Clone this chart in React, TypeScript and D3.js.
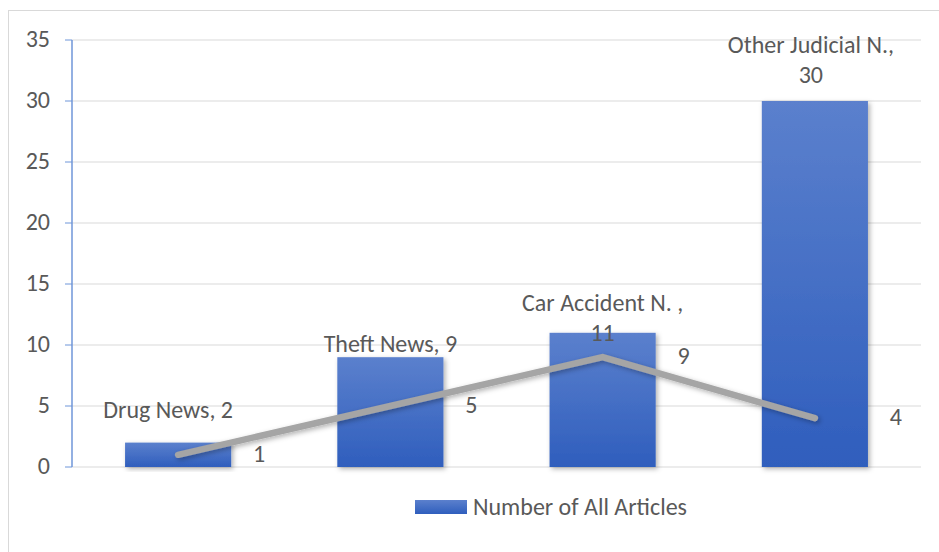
import React from "react";
import * as d3 from "d3";

const categories = ["Drug News", "Theft News", "Car Accident N. ", "Other Judicial N."];
const barValues = [2, 9, 11, 30];
const lineValues = [1, 5, 9, 4];
const yTicks = [0, 5, 10, 15, 20, 25, 30, 35];
const legendLabel = "Number of All Articles";

export default function App() {
  const W = 939, H = 552;
  const x0 = 72, x1 = 921, yTop = 40, yBot = 467;
  const x = d3.scaleBand<string>().domain(categories).range([x0, x1]).paddingInner(0.5).paddingOuter(0.25);
  const xc = (c: string) => (x(c) as number) + x.bandwidth() / 2;
  const y = d3.scaleLinear().domain([0, 35]).range([yBot, yTop]);
  const line = d3.line<number>().x((_, i) => xc(categories[i])).y((v) => y(v));
  const font = "Carlito, 'Open Sans', 'Liberation Sans', sans-serif";
  const txt = "#595959";
  const fs = 24;
  const barLabelLines: string[][] = categories.map((c, i) =>
    c.endsWith(".") || c.endsWith(". ") ? [c + ",", String(barValues[i])] : [c + ", " + barValues[i]]
  );
  const barLabelGap = [25, 5, -8, 18];
  const barLabelDx = [-10, 0, 0, -4];
  return (
    <svg width={W} height={H} style={{ position: "absolute", left: 0, top: 0 }}>
      <defs>
        <linearGradient id="barGrad" x1="0" y1="0" x2="0" y2="1">
          <stop offset="0" stopColor="#5b80cd" />
          <stop offset="1" stopColor="#2f5ebd" />
        </linearGradient>
        <linearGradient id="legGrad" x1="0" y1="0" x2="0" y2="1">
          <stop offset="0" stopColor="#5b80cd" />
          <stop offset="1" stopColor="#2f5ebd" />
        </linearGradient>
        <filter id="shadow" x="-20%" y="-20%" width="140%" height="140%">
          <feDropShadow dx="2" dy="2" stdDeviation="2.5" floodColor="#000" floodOpacity="0.3" />
        </filter>
      </defs>
      <rect x={0} y={0} width={W} height={H} fill="#fff" />
      <rect x={8.5} y={10.5} width={W + 10} height={H + 10} fill="none" stroke="#d9d9d9" />
      {yTicks.map((t) => (
        <g key={t}>
          <line x1={x0} x2={x1} y1={y(t)} y2={y(t)} stroke="#d9d9d9" strokeWidth={1} />
          <line x1={x0 - 7} x2={x0} y1={y(t)} y2={y(t)} stroke="#6f96d9" strokeWidth={1} />
          <text x={50} y={y(t)} dy="0.3em" textAnchor="end" fontSize={fs} fontFamily={font} fill={txt}>{t}</text>
        </g>
      ))}
      <line x1={x0} x2={x0} y1={yTop} y2={yBot} stroke="#6f96d9" strokeWidth={1.5} />
      {categories.map((c, i) => (
        <rect key={c} x={x(c)} y={y(barValues[i])} width={x.bandwidth()} height={yBot - y(barValues[i])}
          fill="url(#barGrad)" filter="url(#shadow)" />
      ))}
      <path d={line(lineValues) as string} fill="none" stroke="#a5a5a5" strokeWidth={6.5} strokeLinecap="round"
        strokeLinejoin="miter" filter="url(#shadow)" />
      {categories.map((c, i) => {
        const lines = barLabelLines[i];
        const base = y(barValues[i]) - barLabelGap[i];
        return (
          <text key={c} textAnchor="middle" fontSize={fs} fontFamily={font} fill={txt}>
            {lines.map((l, j) => (
              <tspan key={j} x={xc(c) + barLabelDx[i]} y={base - (lines.length - 1 - j) * 30}>{l}</tspan>
            ))}
          </text>
        );
      })}
      {categories.map((c, i) => (
        <text key={c} x={xc(c) + 81} y={y(lineValues[i])} dy="0.3em" textAnchor="middle" fontSize={fs}
          fontFamily={font} fill={txt}>{lineValues[i]}</text>
      ))}
      <rect x={415} y={500} width={52} height={14} fill="url(#legGrad)" />
      <text x={473} y={507} dy="0.33em" fontSize={fs} fontFamily={font} fill={txt}>{legendLabel}</text>
    </svg>
  );
}
